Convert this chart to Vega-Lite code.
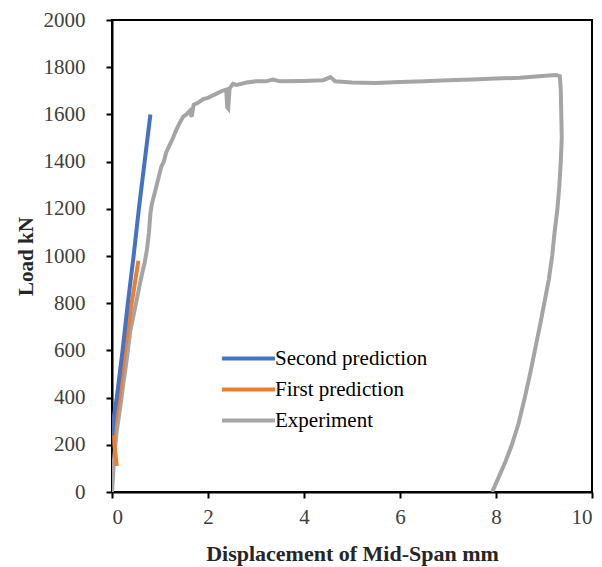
{
  "$schema": "https://vega.github.io/schema/vega-lite/v6.json",
  "width": 480,
  "height": 472,
  "autosize": {"type": "none"},
  "padding": {"left": 112, "top": 20, "right": 10, "bottom": 75},
  "background": "white",
  "config": {
    "view": {"stroke": "black", "strokeWidth": 2},
    "font": "Liberation Serif"
  },
  "data": {
    "values": [
      {"s": "Experiment", "i": 0, "x": 0, "y": 0},
      {"s": "Experiment", "i": 1, "x": 0.02, "y": 60},
      {"s": "Experiment", "i": 2, "x": 0.04, "y": 130},
      {"s": "Experiment", "i": 3, "x": 0.07, "y": 200},
      {"s": "Experiment", "i": 4, "x": 0.1, "y": 260},
      {"s": "Experiment", "i": 5, "x": 0.15, "y": 330},
      {"s": "Experiment", "i": 6, "x": 0.2, "y": 400},
      {"s": "Experiment", "i": 7, "x": 0.23, "y": 450},
      {"s": "Experiment", "i": 8, "x": 0.28, "y": 520},
      {"s": "Experiment", "i": 9, "x": 0.33, "y": 600},
      {"s": "Experiment", "i": 10, "x": 0.38, "y": 680},
      {"s": "Experiment", "i": 11, "x": 0.44, "y": 740},
      {"s": "Experiment", "i": 12, "x": 0.5, "y": 800},
      {"s": "Experiment", "i": 13, "x": 0.56, "y": 860},
      {"s": "Experiment", "i": 14, "x": 0.62, "y": 920},
      {"s": "Experiment", "i": 15, "x": 0.68, "y": 970},
      {"s": "Experiment", "i": 16, "x": 0.73, "y": 1030},
      {"s": "Experiment", "i": 17, "x": 0.77, "y": 1100},
      {"s": "Experiment", "i": 18, "x": 0.8, "y": 1180},
      {"s": "Experiment", "i": 19, "x": 0.83, "y": 1220},
      {"s": "Experiment", "i": 20, "x": 0.88, "y": 1260},
      {"s": "Experiment", "i": 21, "x": 0.93, "y": 1300},
      {"s": "Experiment", "i": 22, "x": 0.98, "y": 1340},
      {"s": "Experiment", "i": 23, "x": 1.03, "y": 1380},
      {"s": "Experiment", "i": 24, "x": 1.08, "y": 1400},
      {"s": "Experiment", "i": 25, "x": 1.13, "y": 1440},
      {"s": "Experiment", "i": 26, "x": 1.2, "y": 1470},
      {"s": "Experiment", "i": 27, "x": 1.27, "y": 1500},
      {"s": "Experiment", "i": 28, "x": 1.33, "y": 1530},
      {"s": "Experiment", "i": 29, "x": 1.4, "y": 1560},
      {"s": "Experiment", "i": 30, "x": 1.48, "y": 1590},
      {"s": "Experiment", "i": 31, "x": 1.55, "y": 1600},
      {"s": "Experiment", "i": 32, "x": 1.62, "y": 1615},
      {"s": "Experiment", "i": 33, "x": 1.66, "y": 1590},
      {"s": "Experiment", "i": 34, "x": 1.7, "y": 1640},
      {"s": "Experiment", "i": 35, "x": 1.8, "y": 1650},
      {"s": "Experiment", "i": 36, "x": 1.9, "y": 1665},
      {"s": "Experiment", "i": 37, "x": 2.0, "y": 1670},
      {"s": "Experiment", "i": 38, "x": 2.1, "y": 1680},
      {"s": "Experiment", "i": 39, "x": 2.2, "y": 1690},
      {"s": "Experiment", "i": 40, "x": 2.3, "y": 1700},
      {"s": "Experiment", "i": 41, "x": 2.38, "y": 1705},
      {"s": "Experiment", "i": 42, "x": 2.4, "y": 1630},
      {"s": "Experiment", "i": 43, "x": 2.42, "y": 1625},
      {"s": "Experiment", "i": 44, "x": 2.45, "y": 1710},
      {"s": "Experiment", "i": 45, "x": 2.52, "y": 1730},
      {"s": "Experiment", "i": 46, "x": 2.6, "y": 1725},
      {"s": "Experiment", "i": 47, "x": 2.8, "y": 1735},
      {"s": "Experiment", "i": 48, "x": 3.0, "y": 1740},
      {"s": "Experiment", "i": 49, "x": 3.2, "y": 1740},
      {"s": "Experiment", "i": 50, "x": 3.35, "y": 1748},
      {"s": "Experiment", "i": 51, "x": 3.5, "y": 1740},
      {"s": "Experiment", "i": 52, "x": 4.0, "y": 1742},
      {"s": "Experiment", "i": 53, "x": 4.4, "y": 1745},
      {"s": "Experiment", "i": 54, "x": 4.55, "y": 1758},
      {"s": "Experiment", "i": 55, "x": 4.65, "y": 1740},
      {"s": "Experiment", "i": 56, "x": 5.0, "y": 1735},
      {"s": "Experiment", "i": 57, "x": 5.5, "y": 1733},
      {"s": "Experiment", "i": 58, "x": 6.0, "y": 1737},
      {"s": "Experiment", "i": 59, "x": 6.5, "y": 1740},
      {"s": "Experiment", "i": 60, "x": 7.0, "y": 1745},
      {"s": "Experiment", "i": 61, "x": 7.5, "y": 1748},
      {"s": "Experiment", "i": 62, "x": 8.0, "y": 1752},
      {"s": "Experiment", "i": 63, "x": 8.5, "y": 1755},
      {"s": "Experiment", "i": 64, "x": 8.9, "y": 1762},
      {"s": "Experiment", "i": 65, "x": 9.1, "y": 1765},
      {"s": "Experiment", "i": 66, "x": 9.25, "y": 1767},
      {"s": "Experiment", "i": 67, "x": 9.33, "y": 1762},
      {"s": "Experiment", "i": 68, "x": 9.35, "y": 1700},
      {"s": "Experiment", "i": 69, "x": 9.36, "y": 1600},
      {"s": "Experiment", "i": 70, "x": 9.37, "y": 1500},
      {"s": "Experiment", "i": 71, "x": 9.35, "y": 1400},
      {"s": "Experiment", "i": 72, "x": 9.32, "y": 1300},
      {"s": "Experiment", "i": 73, "x": 9.28, "y": 1200},
      {"s": "Experiment", "i": 74, "x": 9.22, "y": 1100},
      {"s": "Experiment", "i": 75, "x": 9.17, "y": 1000},
      {"s": "Experiment", "i": 76, "x": 9.1, "y": 900},
      {"s": "Experiment", "i": 77, "x": 9.02, "y": 815},
      {"s": "Experiment", "i": 78, "x": 8.93, "y": 720},
      {"s": "Experiment", "i": 79, "x": 8.83, "y": 620},
      {"s": "Experiment", "i": 80, "x": 8.72, "y": 510},
      {"s": "Experiment", "i": 81, "x": 8.6, "y": 400},
      {"s": "Experiment", "i": 82, "x": 8.47, "y": 290},
      {"s": "Experiment", "i": 83, "x": 8.33, "y": 200},
      {"s": "Experiment", "i": 84, "x": 8.2, "y": 130},
      {"s": "Experiment", "i": 85, "x": 8.05, "y": 60},
      {"s": "Experiment", "i": 86, "x": 7.92, "y": 0},
      {"s": "First prediction", "i": 0, "x": 0.1, "y": 110},
      {"s": "First prediction", "i": 1, "x": 0.05, "y": 200},
      {"s": "First prediction", "i": 2, "x": 0.04, "y": 260},
      {"s": "First prediction", "i": 3, "x": 0.15, "y": 400},
      {"s": "First prediction", "i": 4, "x": 0.27, "y": 600},
      {"s": "First prediction", "i": 5, "x": 0.41, "y": 800},
      {"s": "First prediction", "i": 6, "x": 0.55, "y": 980},
      {"s": "Second prediction", "i": 0, "x": 0.0, "y": 240},
      {"s": "Second prediction", "i": 1, "x": 0.04, "y": 320},
      {"s": "Second prediction", "i": 2, "x": 0.1, "y": 400},
      {"s": "Second prediction", "i": 3, "x": 0.22, "y": 600},
      {"s": "Second prediction", "i": 4, "x": 0.33, "y": 800},
      {"s": "Second prediction", "i": 5, "x": 0.45, "y": 1000},
      {"s": "Second prediction", "i": 6, "x": 0.56, "y": 1200},
      {"s": "Second prediction", "i": 7, "x": 0.68, "y": 1400},
      {"s": "Second prediction", "i": 8, "x": 0.8, "y": 1600}
    ]
  },
  "mark": {"type": "line", "strokeWidth": 4, "clip": true},
  "encoding": {
    "x": {
      "field": "x",
      "type": "quantitative",
      "scale": {"domain": [0, 10], "nice": false, "zero": false},
      "axis": {
        "values": [0, 2, 4, 6, 8, 10],
        "format": "d",
        "title": "Displacement of Mid-Span mm",
        "grid": false,
        "domainColor": "black",
        "domainWidth": 2,
        "tickColor": "black",
        "tickWidth": 2,
        "tickSize": 6,
        "labelPadding": 8,
        "labelFont": "Liberation Serif",
        "labelFontSize": 21,
        "labelColor": "#404040",
        "titleFont": "Liberation Serif",
        "titleFontSize": 22,
        "titleFontWeight": "bold",
        "titleColor": "#262626",
        "titlePadding": 16
      }
    },
    "y": {
      "field": "y",
      "type": "quantitative",
      "scale": {"domain": [0, 2000], "nice": false},
      "axis": {
        "values": [0, 200, 400, 600, 800, 1000, 1200, 1400, 1600, 1800, 2000],
        "format": "d",
        "title": "Load kN",
        "grid": false,
        "domainColor": "black",
        "domainWidth": 2,
        "tickColor": "black",
        "tickWidth": 2,
        "tickSize": 6,
        "labelPadding": 21,
        "labelFont": "Liberation Serif",
        "labelFontSize": 21,
        "labelColor": "#404040",
        "titleFont": "Liberation Serif",
        "titleFontSize": 21,
        "titleFontWeight": "bold",
        "titleColor": "#262626",
        "titlePadding": 7
      }
    },
    "color": {
      "field": "s",
      "type": "nominal",
      "scale": {
        "domain": ["Second prediction", "First prediction", "Experiment"],
        "range": ["#4472C4", "#ED7D31", "#A5A5A5"]
      },
      "legend": {
        "title": null,
        "orient": "none",
        "legendX": 126,
        "legendY": 328,
        "symbolType": "M-5,0H5",
        "symbolSize": 112,
        "symbolStrokeWidth": 4,
        "labelFont": "Liberation Serif",
        "labelFontSize": 21,
        "labelColor": "black",
        "labelOffset": 16,
        "rowPadding": 9
      }
    },
    "order": {"field": "i", "type": "quantitative"}
  }
}
